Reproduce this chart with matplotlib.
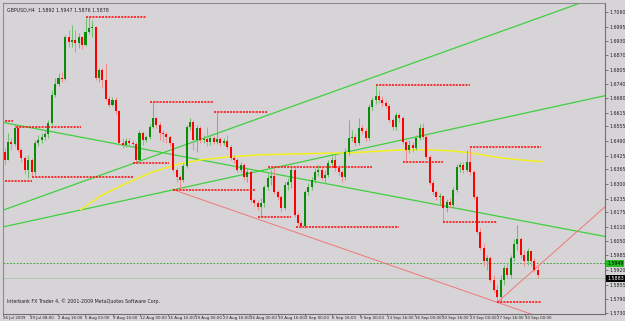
import numpy as np
import matplotlib
matplotlib.use("Agg")
import matplotlib.pyplot as plt

# ---------------- data (prices, in pips *1e-4) ----------------
title_text = "GBPUSD,H4  1.5892 1.5947 1.5876 1.5878"
footer_text = "Interbank FX Trader 4, \u00a9 2001-2009 MetaQuotes Software Corp."

first_open = 16443
closes = [16407, 16487, 16478, 16549, 16451, 16416, 16363, 16407, 16354, 16482,
          16496, 16509, 16522, 16571, 16694, 16743, 16769, 16765, 16950, 16928,
          16937, 16923, 16950, 16915, 16972, 16990, 16994, 16769, 16804, 16760,
          16676, 16650, 16672, 16623, 16482, 16474, 16491, 16482, 16478, 16407,
          16526, 16496, 16509, 16553, 16593, 16562, 16526, 16522, 16509, 16482,
          16363, 16332, 16319, 16381, 16553, 16575, 16496, 16549, 16496, 16500,
          16487, 16504, 16487, 16500, 16482, 16491, 16465, 16416, 16407, 16363,
          16385, 16332, 16354, 16231, 16218, 16200, 16218, 16288, 16328, 16337,
          16266, 16244, 16196, 16297, 16310, 16363, 16165, 16130, 16116, 16266,
          16288, 16319, 16354, 16363, 16328, 16341, 16394, 16407, 16372, 16354,
          16332, 16443, 16504, 16509, 16482, 16549, 16535, 16504, 16641, 16672,
          16690, 16672, 16659, 16646, 16584, 16553, 16606, 16593, 16487, 16451,
          16474, 16460, 16504, 16549, 16509, 16421, 16306, 16266, 16244, 16249,
          16196, 16222, 16209, 16275, 16377, 16385, 16363, 16399, 16354, 16244,
          16090, 16019, 15958, 15975, 15878, 15834, 15799, 15878, 15931, 15900,
          15975, 16033, 16055, 15988, 15958, 16002, 15958, 15922, 15896]
highs = [16460, 16526, 16504, 16566, 16557, 16460, 16425, 16429, 16416, 16496,
         16518, 16526, 16540, 16584, 16716, 16769, 16791, 16795, 16959, 16981,
         17003, 16981, 16967, 16954, 17034, 17038, 17025, 16998, 16813, 16813,
         16835, 16690, 16685, 16685, 16628, 16504, 16504, 16504, 16496, 16487,
         16540, 16535, 16518, 16566, 16663, 16597, 16575, 16540, 16531, 16518,
         16482, 16372, 16341, 16394, 16562, 16593, 16584, 16562, 16557, 16518,
         16553, 16513, 16513, 16619, 16509, 16504, 16518, 16474, 16429, 16416,
         16399, 16394, 16372, 16363, 16240, 16231, 16240, 16297, 16350, 16363,
         16372, 16275, 16253, 16310, 16328, 16377, 16377, 16178, 16143, 16275,
         16306, 16332, 16372, 16385, 16377, 16363, 16407, 16425, 16429, 16385,
         16363, 16460, 16584, 16540, 16522, 16593, 16562, 16549, 16654, 16685,
         16738, 16716, 16690, 16672, 16654, 16593, 16619, 16615, 16601, 16496,
         16496, 16487, 16518, 16566, 16571, 16518, 16429, 16319, 16275, 16262,
         16253, 16235, 16240, 16288, 16390, 16399, 16399, 16451, 16465, 16363,
         16253, 16108, 16033, 15988, 15984, 15896, 15852, 15896, 15944, 15949,
         15988, 16055, 16121, 16068, 16010, 16019, 16010, 15975, 15944]
lows = [16385, 16407, 16451, 16469, 16443, 16399, 16346, 16328, 16337, 16341,
        16469, 16482, 16496, 16504, 16562, 16685, 16734, 16751, 16760, 16906,
        16906, 16884, 16901, 16897, 16910, 16963, 16950, 16760, 16751, 16725,
        16672, 16641, 16646, 16610, 16474, 16460, 16465, 16469, 16465, 16394,
        16399, 16474, 16487, 16500, 16549, 16549, 16496, 16487, 16482, 16469,
        16354, 16310, 16275, 16310, 16372, 16540, 16451, 16443, 16482, 16482,
        16469, 16474, 16478, 16478, 16469, 16474, 16456, 16407, 16394, 16354,
        16354, 16319, 16310, 16222, 16205, 16187, 16156, 16200, 16275, 16297,
        16257, 16231, 16178, 16187, 16275, 16284, 16156, 16121, 16108, 16108,
        16253, 16275, 16306, 16337, 16319, 16310, 16332, 16381, 16359, 16341,
        16310, 16319, 16429, 16491, 16469, 16474, 16522, 16491, 16496, 16628,
        16654, 16659, 16646, 16637, 16575, 16540, 16540, 16575, 16478, 16399,
        16438, 16443, 16451, 16496, 16500, 16412, 16297, 16253, 16231, 16209,
        16134, 16178, 16196, 16200, 16266, 16354, 16350, 16354, 16341, 16235,
        16081, 16010, 15940, 15922, 15865, 15821, 15777, 15781, 15856, 15887,
        15887, 15958, 16010, 15975, 15940, 15944, 15940, 15913, 15883]

# support / resistance levels: (price, first bar, last bar)
level_prices = [17038, 16663, 16619, 16580, 16553, 16315, 16332, 16394, 16275,
                16156, 16112, 16377, 16738, 16399, 16465, 16134, 15777]
level_start = [24, 43, 62, 0, 3.5, 0, 8, 38, 50, 75, 86.5, 78, 110, 118, 138, 130, 146]
level_end = [42, 62, 78, 2.5, 22.6, 8, 38, 48.7, 74.4, 85, 117, 109, 138, 130, 159, 146, 159]

# trend lines: two points each (bar, price)
green_lines = [((0, 16187), (160, 17043)),
               ((0, 16112), (160, 16632)),
               ((0, 16571), (160, 16119))]
red_lines = [((50, 16275), (160, 15705)),
             ((146, 15777), (178, 16200))]

# moving average (yellow)
ma_bars = [22.6, 28.6, 35.9, 43.3, 50.7, 58.1, 67.0, 75.9, 87.7, 102.5, 117.3,
           126.2, 132.1, 138.0, 146.9, 152.8, 159.3]
ma_prices = [16187, 16249, 16302, 16350, 16385, 16407, 16421, 16429, 16434, 16438,
             16451, 16451, 16447, 16438, 16416, 16407, 16399]

price_ticks = [17060, 16995, 16930, 16870, 16805, 16740, 16680, 16615, 16555, 16490,
               16425, 16365, 16300, 16235, 16175, 16110, 16050, 15985, 15920, 15855,
               15790, 15730]
date_labels = ["26 Jul 2009", "29 Jul 08:00", "2 Aug 16:00", "5 Aug 00:00",
               "9 Aug 16:00", "12 Aug 00:00", "16 Aug 16:00", "19 Aug 00:00",
               "23 Aug 16:00", "26 Aug 00:00", "30 Aug 16:00", "2 Sep 00:00",
               "6 Sep 16:00", "9 Sep 00:00", "13 Sep 16:00", "16 Sep 00:00",
               "20 Sep 16:00", "23 Sep 00:00", "27 Sep 16:00", "30 Sep 00:00"]
ask_level = 15949
bid_level = 15883

# ---------------- drawing ----------------
P = 1e-4
closes_p = np.array(closes) * P
highs_p = np.array(highs) * P
lows_p = np.array(lows) * P
opens_p = np.concatenate([[first_open * P], closes_p[:-1]])
x = np.arange(len(closes_p))

BG = "#d7d4d7"
W, H = 625, 321
fig = plt.figure(figsize=(W / 100, H / 100), dpi=100, facecolor=BG)
ax = fig.add_axes([3 / W, 7.5 / H, 602 / W, 310.5 / H], facecolor=BG)
ax.set_xlim(-0.15, 177.96)
ax.set_ylim(1.5728, 1.7100)

bull = closes_p >= opens_p
ax.vlines(x[bull], lows_p[bull], highs_p[bull], color="#6fbf6f", lw=0.75, zorder=3)
ax.vlines(x[~bull], lows_p[~bull], highs_p[~bull], color="#f48a8a", lw=0.75, zorder=3)
body_bottom = np.minimum(opens_p, closes_p)
body_h = np.maximum(np.abs(closes_p - opens_p), 0.0003)
ax.bar(x[bull], body_h[bull], bottom=body_bottom[bull], width=0.6,
       color="#0b8a0b", edgecolor="none", zorder=4)
ax.bar(x[~bull], body_h[~bull], bottom=body_bottom[~bull], width=0.6,
       color="#ff0000", edgecolor="none", zorder=4)

for pr, s, e in zip(level_prices, level_start, level_end):
    ax.plot([s, e], [pr * P, pr * P], color="#ff1010", lw=1.15,
            ls=(0, (1.3, 0.7)), solid_capstyle="butt", zorder=5)

for (p1, p2) in green_lines:
    ax.axline((p1[0], p1[1] * P), (p2[0], p2[1] * P), color="#3fcf3f", lw=0.9, zorder=2)
for (p1, p2) in red_lines:
    ax.plot([p1[0], p2[0]], [p1[1] * P, p2[1] * P], color="#f07878", lw=0.7, zorder=2)

ax.plot(ma_bars, np.array(ma_prices) * P, color="#f4f020", lw=1.1, zorder=2)

ax.axhline(ask_level * P, color="#1c9a1c", lw=0.6, ls=(0, (2, 2)), zorder=1)
ax.axhline(bid_level * P, color="#b4c8b4", lw=0.7, zorder=1)

for side in ["left", "top"]:
    ax.spines[side].set_color("#8c8c8c")
    ax.spines[side].set_linewidth(0.8)
for side in ["right", "bottom"]:
    ax.spines[side].set_color("#707070")
    ax.spines[side].set_linewidth(0.8)

ax.yaxis.tick_right()
ax.set_yticks(np.array(price_ticks) * P)
ax.set_yticklabels([f"{v * P:.4f}" for v in price_ticks])
ax.tick_params(axis="y", direction="out", length=2, width=0.5, color="#555555",
               labelsize=3.4, pad=1.2, labelcolor="#222222")

tick_pos = -0.45 + np.arange(len(date_labels)) * 27.5 / 3.38
ax.set_xticks(tick_pos)
ax.set_xticklabels(date_labels, ha="left")
ax.tick_params(axis="x", direction="out", length=1.2, width=0.5, color="#555555",
               labelsize=2.9, pad=0.3, labelcolor="#222222")

ax.annotate(f"{ask_level * P:.4f}", xy=(1.0, ask_level * P), xycoords=("axes fraction", "data"),
            xytext=(1.5, 0), textcoords="offset points", fontsize=3.4, va="center",
            color="#000000", bbox=dict(boxstyle="square,pad=0.15", fc="#22bb22", ec="none"),
            annotation_clip=False)
ax.annotate(f"{bid_level * P:.4f}", xy=(1.0, bid_level * P), xycoords=("axes fraction", "data"),
            xytext=(1.5, 0), textcoords="offset points", fontsize=3.4, va="center",
            color="#ffffff", bbox=dict(boxstyle="square,pad=0.15", fc="#000000", ec="none"),
            annotation_clip=False)

ax.text(0.006, 0.985, title_text, transform=ax.transAxes, fontsize=3.4,
        va="top", ha="left", color="#222222")
ax.text(0.006, 0.03, footer_text, transform=ax.transAxes, fontsize=3.4,
        va="bottom", ha="left", color="#222222")

fig.savefig("out.png", dpi=100, facecolor=BG)
